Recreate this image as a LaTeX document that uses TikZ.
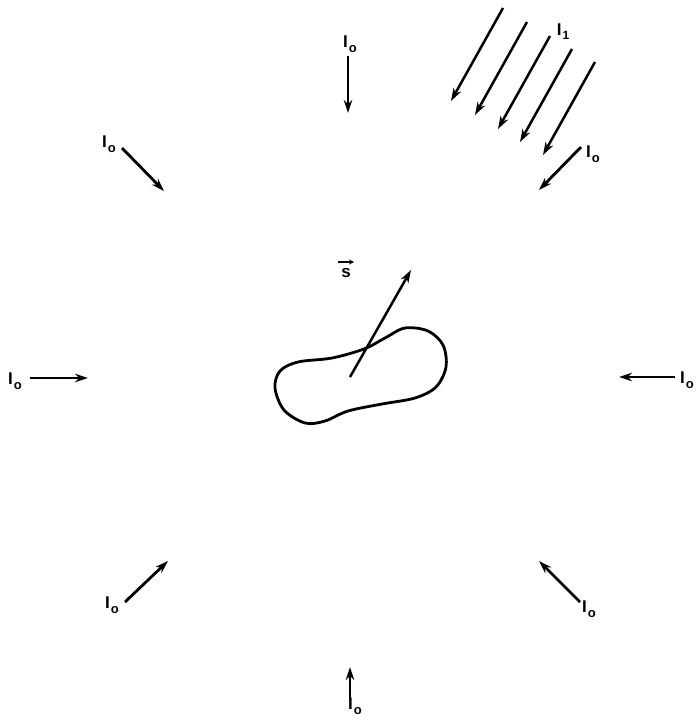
\documentclass[tikz,border=0pt]{standalone}
\usepackage{fontspec}
\setmainfont{Liberation Sans}
\usetikzlibrary{arrows.meta}
\tikzset{
  ray/.style={-{Stealth[length=13pt,width=8.5pt]}, line width=2.8pt},
  beam/.style={-{Stealth[length=13pt,width=8.5pt]}, line width=2.5pt},
  lbl/.style={inner sep=0pt, font=\fontsize{17}{17}\selectfont\bfseries},
  body/.style={line width=2.8pt, line join=round}
}
\newcommand{\Io}{I\kern1pt\raisebox{-5pt}{\fontsize{13}{13}\selectfont o}}
\begin{document}
\begin{tikzpicture}[x=1pt,y=-1pt]
\useasboundingbox (0,0) rectangle (696,721);
% isotropic background radiation
\node[lbl] (ltop) at (350,44) {\Io};
\node[lbl] (lul) at (109,144) {\Io};
\node[lbl] (lleft) at (15,381) {\Io};
\node[lbl] (lright) at (687,380) {\Io};
\node[lbl] (lbl) at (112,605) {\Io};
\node[lbl] (lbr) at (589,609) {\Io};
\node[lbl] (lbot) at (355,706) {\Io};
\node[lbl] (lur) at (593,154) {\Io};
\coordinate (t0) at (348,56);   \coordinate (t1) at (348,113);
\coordinate (ul0) at (122,148); \coordinate (ul1) at (164,191);
\coordinate (l0) at (30,378);   \coordinate (l1) at (88,378);
\coordinate (r0) at (675,377);  \coordinate (r1) at (619,377);
\coordinate (bl0) at (125,602); \coordinate (bl1) at (168,561);
\coordinate (br0) at (580,602); \coordinate (br1) at (539,561);
\coordinate (b0) at (350,700);  \coordinate (b1) at (350,667);
\coordinate (ur0) at (581,147); \coordinate (ur1) at (539,190);
\foreach \a in {t,ul,l,r,bl,br,b,ur}
  \draw[ray] (\a0) -- (\a1);
% directed beam
\node[lbl] (lone) at (563,32) {I\kern1pt\raisebox{-4pt}{\fontsize{12}{12}\selectfont 1}};
\foreach \i/\x/\y in {1/503/8, 2/527/22, 3/550/36, 4/572/49, 5/595/62} {
  \coordinate (s\i) at (\x,\y);
  \coordinate (e\i) at (\x-52,\y+93);
  \draw[beam] (s\i) -- (e\i);
}
% particle and its axis
\draw[body] plot[smooth cycle, tension=0.55] coordinates {
  (275,388) (280,371) (298,362) (332,358) (364,349) (385,338) (405,328)
  (428,331) (443,345) (446,367) (436,387) (415,398) (382,404) (348,411)
  (325,421) (305,423) (284,410)};
\coordinate (o) at (350,377);
\coordinate (tip) at (411,270);
\draw[ray, line width=2.5pt] (o) -- (tip);
\node[lbl] (svec) at (346,273) {s};
\coordinate (sa) at (338,262);
\coordinate (sb) at (354,262);
\draw[-{Stealth[length=5pt,width=5pt]}, line width=1.8pt] (sa) -- (sb);
\end{tikzpicture}
\end{document}
